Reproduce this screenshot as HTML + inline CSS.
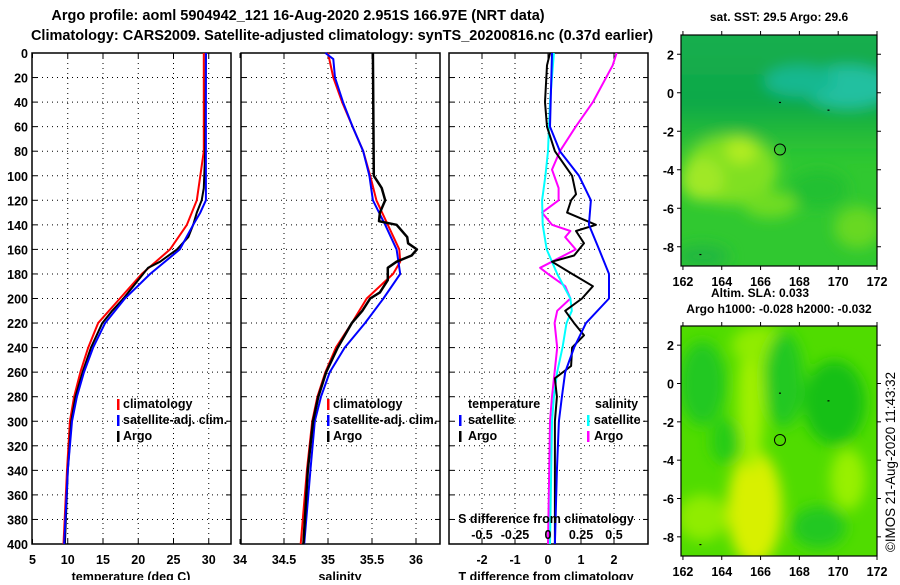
<!DOCTYPE html>
<html><head><meta charset="utf-8"><style>
body{margin:0;background:#fff;}
svg text{font-family:"Liberation Sans",Arial,sans-serif;font-weight:bold;fill:#000;}
</style></head><body>
<svg id="chart" xmlns="http://www.w3.org/2000/svg" width="900" height="580" viewBox="0 0 900 580">
<defs>
<filter id="blur6" x="-50%" y="-50%" width="200%" height="200%"><feGaussianBlur stdDeviation="7"/></filter>
<clipPath id="clipM1"><rect x="681" y="35" width="196" height="231"/></clipPath>
<clipPath id="clipM2"><rect x="681" y="326" width="196" height="230"/></clipPath>
<linearGradient id="tealGrad" x1="0" y1="0" x2="0" y2="1"><stop offset="0" stop-color="#14b050"/><stop offset="0.6" stop-color="#10a848"/><stop offset="1" stop-color="#18b040" stop-opacity="0"/></linearGradient>
</defs>
<text x="298" y="20" font-size="14.5" text-anchor="middle">Argo profile: aoml 5904942_121 16-Aug-2020 2.951S 166.97E (NRT data)</text>
<text x="342" y="40" font-size="14.5" text-anchor="middle">Climatology: CARS2009. Satellite-adjusted climatology: synTS_20200816.nc (0.37d earlier)</text>
<g id="panels"></g>
<g id="maps"></g>
<text transform="translate(895,462) rotate(-90)" font-size="13.4" text-anchor="middle" style="font-weight:normal">©IMOS 21-Aug-2020 11:43:32</text>
</svg>
<script>
// ---------- data ----------
const depthTicks = [0,20,40,60,80,100,120,140,160,180,200,220,240,260,280,300,320,340,360,380,400];
const tempTicks = [5,10,15,20,25,30];
const salTicks = [34,34.5,35,35.5,36];
const tdiffTicks = [-2,-1,0,1,2];
const sdiffTicks = [-0.5,-0.25,0,0.25,0.5];

const tClimDepth = [0,80,100,120,140,160,180,200,220,240,260,280,300,340,400];
const tClim = [29.3,29.3,28.8,28.3,26.9,24.5,20.5,17.4,14.3,12.9,11.8,10.9,10.3,9.9,9.4];
const tSatDepth = [0,120,130,140,160,180,200,220,240,260,280,300,340,400];
const tSat = [29.6,29.6,28.8,27.8,25.9,21.7,18.1,15.3,13.6,12.3,11.3,10.6,10.0,9.5];
const tArgoDepth = [0,80,110,120,130,140,150,160,170,175,180,190,200,210,220,240,260,280,300,340,400];
const tArgo = [29.6,29.5,29.3,29.0,28.3,27.8,27.1,25.5,23.1,21.4,20.7,19.3,17.9,16.3,14.9,13.3,12.1,11.1,10.5,10.0,9.6];

const sClimDepth = [0,20,40,60,80,100,120,140,160,170,180,200,220,240,260,280,300,340,400];
const sClim = [35.0,35.06,35.16,35.28,35.40,35.48,35.55,35.68,35.81,35.82,35.74,35.44,35.27,35.09,34.97,34.88,34.82,34.76,34.69];
const sSatDepth = [0,5,20,40,60,80,100,120,140,160,180,200,220,240,260,280,300,340,400];
const sSat = [34.97,35.06,35.08,35.17,35.28,35.40,35.47,35.51,35.65,35.78,35.82,35.63,35.42,35.19,35.02,34.92,34.85,34.80,34.73];
const sArgoDepth = [0,100,110,120,130,137,140,150,155,160,165,170,175,185,195,200,210,220,240,260,280,300,340,400];
const sArgo = [35.51,35.52,35.61,35.65,35.59,35.58,35.78,35.90,35.91,36.01,35.95,35.78,35.68,35.68,35.59,35.48,35.39,35.27,35.11,34.98,34.89,34.83,34.77,34.72];

const dTSatDepth = [0,60,70,80,100,120,140,160,180,200,220,240,260,280,300,340,400];
const dTSat = [0.12,0.06,0.21,0.36,0.94,1.30,1.24,1.55,1.85,1.85,1.15,0.79,0.52,0.42,0.33,0.27,0.21];
const dTArgoDepth = [0,10,40,60,80,100,115,120,130,140,145,155,165,170,180,190,200,210,220,230,240,255,265,280,300,400];
const dTArgo = [0.06,-0.03,-0.09,-0.03,0.21,0.73,0.85,0.70,0.58,1.45,0.85,1.09,0.79,0.12,0.73,1.36,1.03,0.52,0.79,1.09,0.73,0.70,0.21,0.27,0.21,0.21];
const dSSatDepth = [0,40,80,100,120,140,160,180,200,210,220,240,260,280,300,400];
const dSSat = [0.045,0.015,0,-0.02,-0.045,-0.04,-0.01,0.07,0.17,0.18,0.14,0.11,0.07,0.045,0.03,0.015];
const dSArgoDepth = [0,10,40,60,80,95,110,120,130,140,145,150,160,170,175,180,190,200,210,220,240,260,280,300,400];
const dSArgo = [0.52,0.49,0.34,0.21,0.09,0.03,0.08,0.08,-0.045,0.03,0.17,0.13,0.21,0.03,-0.06,0,0.13,0.17,0.07,0.05,0.07,0.05,0.03,0.015,0];

const lonTicks = [162,164,166,168,170,172];
const latTicks = [2,0,-2,-4,-6,-8];
const profileLon = 167.0, profileLat = -2.95;

// ---------- helpers ----------
const NS = 'http://www.w3.org/2000/svg';
function mk(tag, attrs, parent){const e=document.createElementNS(NS,tag);for(const k in attrs)e.setAttribute(k,attrs[k]);parent.appendChild(e);return e;}
const yTop=53, yBot=544;
const yScale = d => yTop + d*(yBot-yTop)/400;
const panels = document.getElementById('panels');

function drawPanel(name, x0, x1, xs, ticks, fmt, showY){
  const g = mk('g',{},panels);
  
  
  depthTicks.forEach(d=>{
    const y=yScale(d);
    if(d>0&&d<400){const l=mk('line',{x1:x0,x2:x1,y1:y,y2:y,stroke:'#000','stroke-width':1,'stroke-dasharray':'1 4'},g);
      
      }
    mk('line',{x1:x0,x2:x0+5,y1:y,y2:y,stroke:'#000'},g);
    mk('line',{x1:x1-5,x2:x1,y1:y,y2:y,stroke:'#000'},g);
    if(showY){const t=mk('text',{x:x0-4,y:y+5,'font-size':12.5,'text-anchor':'end'},g);t.textContent=d;
      
      }
  });
  ticks.forEach(v=>{
    const x=xs(v);
    if(x>x0+1&&x<x1-1){const l=mk('line',{x1:x,x2:x,y1:yTop,y2:yBot,stroke:'#000','stroke-dasharray':'1 4'},g);
      
      }
    mk('line',{x1:x,x2:x,y1:yTop,y2:yTop+5,stroke:'#000'},g);
    mk('line',{x1:x,x2:x,y1:yBot-5,y2:yBot,stroke:'#000'},g);
    const t=mk('text',{x:x,y:564,'font-size':12.5,'text-anchor':'middle'},g);t.textContent=fmt(v);
    
    
  });
  const r=mk('rect',{x:x0,y:yTop,width:x1-x0,height:yBot-yTop,fill:'none',stroke:'#000','stroke-width':1.5},g);
  
  
  return g;
}
function line(g, xs, depths, vals, color, w, name){
  const pts = depths.map((d,i)=>xs(vals[i]).toFixed(1)+','+yScale(d).toFixed(1)).join(' ');
  const p=mk('polyline',{points:pts,fill:'none',stroke:color,'stroke-width':w,'stroke-linejoin':'round'},g);
  
  
}
function label(g,x,y,txt,name,anchor){const t=mk('text',{x:x,y:y,'font-size':12.5,'text-anchor':anchor||'start'},g);t.textContent=txt;
  
  return t;}
function legendMark(g,x,y,color,name){const r=mk('rect',{x:x,y:y-10,width:2.5,height:11,fill:color},g);
  
  }

// Panel 1 temperature
const tX = v => 32.5 + (v-5)*7.05;
const g1 = drawPanel('temperature', 32, 231, tX, tempTicks, v=>v, true);
line(g1,tX,tClimDepth,tClim,'#ff0000',2,'temp-climatology-line');
line(g1,tX,tArgoDepth,tArgo,'#000',2,'temp-argo-line');
line(g1,tX,tSatDepth,tSat,'#0000ff',2,'temp-satellite-line');
label(g1,131,581,'temperature (deg C)','x-axis-title-temperature','middle');
legendMark(g1,117,409,'#ff0000','legend-mark-climatology');label(g1,123,408,'climatology','legend-climatology');
legendMark(g1,117,425,'#0000ff','legend-mark-satellite');label(g1,123,424,'satellite-adj. clim.','legend-satellite');
legendMark(g1,117,441,'#000','legend-mark-argo');label(g1,123,440,'Argo','legend-argo');

// Panel 2 salinity
const sX = v => 240 + (v-34)*88;
const g2 = drawPanel('salinity', 241, 440, sX, salTicks, v=>v, false);
line(g2,sX,sClimDepth,sClim,'#ff0000',2,'sal-climatology-line');
line(g2,sX,sSatDepth,sSat,'#0000ff',2,'sal-satellite-line');
line(g2,sX,sArgoDepth,sArgo,'#000',2.5,'sal-argo-line');
label(g2,340,581,'salinity','x-axis-title-salinity','middle');
legendMark(g2,327,409,'#ff0000','legend-mark-climatology-2');label(g2,333,408,'climatology','legend-climatology-2');
legendMark(g2,327,425,'#0000ff','legend-mark-satellite-2');label(g2,333,424,'satellite-adj. clim.','legend-satellite-2');
legendMark(g2,327,441,'#000','legend-mark-argo-2');label(g2,333,440,'Argo','legend-argo-2');

// Panel 3 differences
const dtX = v => 548 + v*33;
const dsX = v => 548 + v*132;
const g3 = drawPanel('difference', 449, 648, dtX, tdiffTicks, v=>v, false);
line(g3,dsX,dSArgoDepth,dSArgo,'#ff00ff',2,'sdiff-argo-line');
line(g3,dsX,dSSatDepth,dSSat,'#00ffff',2,'sdiff-satellite-line');
line(g3,dtX,dTArgoDepth,dTArgo,'#000',2,'tdiff-argo-line');
line(g3,dtX,dTSatDepth,dTSat,'#0000ff',2,'tdiff-satellite-line');
label(g3,546,581,'T difference from climatology','x-axis-title-tdiff','middle');
label(g3,546,523,'S difference from climatology','sdiff-axis-title','middle');
sdiffTicks.forEach(v=>{label(g3,dsX(v),539,String(v),'sdiff-tick-label','middle');});
label(g3,468,408,'temperature','legend-temperature-header');
legendMark(g3,459,425,'#0000ff','legend-mark-tsat');label(g3,468,424,'satellite','legend-tsat');
legendMark(g3,459,441,'#000','legend-mark-targo');label(g3,468,440,'Argo','legend-targo');
label(g3,595,408,'salinity','legend-salinity-header');
legendMark(g3,587,425,'#00ffff','legend-mark-ssat');label(g3,594,424,'satellite','legend-ssat');
legendMark(g3,587,441,'#ff00ff','legend-mark-sargo');label(g3,594,440,'Argo','legend-sargo');

// ---------- maps ----------
const maps = document.getElementById('maps');
function drawMap(name, top, bot, title1, title2, blobs, base){
  const lx = lon => 681 + (lon-161.9)*(196/10.1);
  const ly = lat => top + (3-lat)*((bot-top)/12);
  const g = mk('g',{},maps);
  
  
  const inner = mk('g',{'clip-path':'url(#'+(name==='sst-map'?'clipM1':'clipM2')+')'},g);
  mk('rect',{x:681,y:top,width:196,height:bot-top,fill:base},inner);
  const bg = mk('g',{filter:'url(#blur6)'},inner);
  blobs.forEach(b=>{ if(b.grad){mk('rect',{x:660,y:top-20,width:240,height:(bot-top)*0.55+20,fill:'url(#tealGrad)'},bg);}
    else mk('ellipse',{cx:lx(b[0]),cy:ly(b[1]),rx:b[2]*19.4,ry:b[3]*19.2,fill:b[4]},bg);});
  const c=mk('circle',{cx:lx(profileLon),cy:ly(profileLat),r:5.5,fill:'none',stroke:'#000','stroke-width':1},g);
  
  
  [[167,-0.5],[169.5,-0.9],[162.9,-8.4]].forEach(p=>mk('rect',{x:lx(p[0])-1,y:ly(p[1])-0.5,width:2,height:1.2,fill:'#000'},g));
  mk('rect',{x:681,y:top,width:196,height:bot-top,fill:'none',stroke:'#000','stroke-width':1.2},g);
  lonTicks.forEach(v=>{const x=lx(v);mk('line',{x1:x,x2:x,y1:top-4,y2:top,stroke:'#000'},g);mk('line',{x1:x,x2:x,y1:bot,y2:bot+4,stroke:'#000'},g);
    const t=mk('text',{x:x,y:bot+20,'font-size':12.5,'text-anchor':'middle'},g);t.textContent=v;
    
    });
  latTicks.forEach(v=>{const y=ly(v);mk('line',{x1:677,x2:681,y1:y,y2:y,stroke:'#000'},g);mk('line',{x1:877,x2:881,y1:y,y2:y,stroke:'#000'},g);
    const t=mk('text',{x:674,y:y+5,'font-size':12.5,'text-anchor':'end'},g);t.textContent=v;
    
    });
  if(title1){const t=mk('text',{x:title2?760:779,y:title2?top-29:top-14,'font-size':12,'text-anchor':'middle'},g);t.textContent=title1;
    
    }
  if(title2){const t=mk('text',{x:779,y:top-13,'font-size':12,'text-anchor':'middle'},g);t.textContent=title2;
    
    }
}
drawMap('sst-map',35,266,'sat. SST: 29.5  Argo: 29.6',null,[
  {grad:true},
  [170.5,0.3,2.3,1.1,'#20c0a0'],[168,0.6,1.8,0.8,'#18b890'],
  [164.5,-4,2.4,1.8,'#80e020'],[163,-4.5,1.1,1.1,'#a0e828'],[165,-3,0.8,0.7,'#b0ec20'],[166.5,-5.8,1.4,0.7,'#70dc20'],
  [171,-7,1.2,1.1,'#68d820'],[163,-8.5,1.4,0.6,'#20b840'],[169,-5,1.5,1,'#20c030']
],'#30c830');
drawMap('sla-map',326,556,'Altim. SLA: 0.033','Argo h1000: -0.028 h2000: -0.032',[
  [165.7,-6.5,1.4,3.0,'#d8f000'],[165.5,-1,0.7,3.5,'#a0f000'],[166,2,1.5,1,'#90ec00'],
  [170.5,-5,0.9,1.6,'#98f000'],[163,-7,1.3,1.2,'#90ec00'],
  [163,0,1.2,2.2,'#20c820'],[167.2,0.2,1.0,2.5,'#20c820'],[169.8,-1,1.6,2.2,'#18c018'],
  [169,-7.5,1.4,1.1,'#20c820'],[164.2,-3,0.8,1.2,'#28cc18']
],'#50dc00');
</script>
</body></html>
